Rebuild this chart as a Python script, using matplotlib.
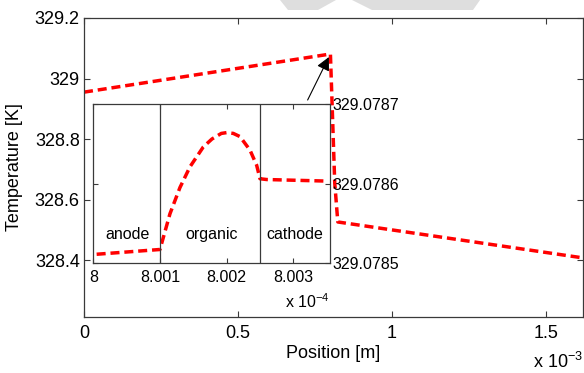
import matplotlib
matplotlib.use('Agg')
import matplotlib.pyplot as plt
from matplotlib.patches import Polygon

plt.rcParams['font.family'] = ['Liberation Sans', 'DejaVu Sans']
plt.rcParams['mathtext.fontset'] = 'custom'
plt.rcParams['mathtext.rm'] = 'Liberation Sans'
plt.rcParams['mathtext.default'] = 'regular'

# ---- data ----
main_x = [0.0, 0.800e-3, 0.805e-3, 0.814e-3, 0.824e-3, 1.622e-3]
main_T = [328.955, 329.081, 328.929, 328.655, 328.526, 328.407]

inset_x = [8.00005e-4, 8.0010e-4, 8.00115e-4, 8.0013e-4, 8.00145e-4, 8.00165e-4,
           8.00178e-4, 8.00192e-4, 8.0020e-4, 8.0021e-4, 8.0022e-4, 8.00235e-4,
           8.00245e-4, 8.0025e-4, 8.0026e-4, 8.00352e-4]
inset_T = [329.078511, 329.078517, 329.078562, 329.078595, 329.078621, 329.078646,
           329.078656, 329.078663, 329.078664, 329.078663, 329.078659, 329.078642,
           329.078623, 329.078606, 329.078605, 329.078603]

layer_bounds = [8.001e-4, 8.0025e-4]
layer_names = ['anode', 'organic', 'cathode']
layer_centers = [8.00052e-4, 8.00178e-4, 8.00302e-4]

main_xticks = [0.0, 0.5e-3, 1.0e-3, 1.5e-3]
main_xticklabels = ['0', '0.5', '1', '1.5']
main_yticks = [328.4, 328.6, 328.8, 329.0, 329.2]
main_yticklabels = ['328.4', '328.6', '328.8', '329', '329.2']

inset_xticks = [8.000e-4, 8.001e-4, 8.002e-4, 8.003e-4]
inset_xticklabels = ['8', '8.001', '8.002', '8.003']
inset_yticks = [329.0785, 329.0786, 329.0787]
inset_yticklabels = ['329.0785', '329.0786', '329.0787']

arrow_tail = (0.726e-3, 328.929)
arrow_head = (0.795e-3, 329.071)

W, H = 584, 373
fig = plt.figure(figsize=(W / 100, H / 100), dpi=100)

# watermark shapes at top
wm_color = '#dedede'
for poly in ([(280, 0), (336, 0), (318, 10), (288, 10)],
             [(352, 0), (480, 0), (473, 10), (372, 10)]):
    fig.patches.append(Polygon([(x / W, 1 - y / H) for x, y in poly], closed=True,
                               transform=fig.transFigure, facecolor=wm_color,
                               edgecolor='none', zorder=-5))

spine_col = '#3a3a3a'
red = '#ff0000'
dash = (0, (2.6, 1.4))

ax = fig.add_axes([84 / W, 1 - 317 / H, 499 / W, 299 / H])
ax.plot(main_x, main_T, color=red, lw=2.5, linestyle=dash)
ax.set_xlim(0, 1.62e-3)
ax.set_ylim(328.212, 329.2)
ax.set_xticks(main_xticks)
ax.set_xticklabels(main_xticklabels)
ax.set_yticks(main_yticks)
ax.set_yticklabels(main_yticklabels)
ax.tick_params(direction='in', length=4, width=0.8, color=spine_col,
               top=True, right=True, labelsize=13)
ax.tick_params(axis='x', pad=6)
ax.tick_params(axis='y', pad=3)
for s in ax.spines.values():
    s.set_color(spine_col)
    s.set_linewidth(0.9)
ax.set_xlabel('Position [m]', fontsize=13)
ax.set_ylabel('Temperature [K]', fontsize=13)
ax.xaxis.set_label_coords(0.5, -0.095)
ax.yaxis.set_label_coords(-0.122, 0.5)
ax.text(1.0, -0.15, r'x 10$^{-3}$', transform=ax.transAxes, ha='right',
        va='center', fontsize=13)

ax.annotate('', xy=arrow_head, xytext=arrow_tail,
            arrowprops=dict(arrowstyle='-|>', color='black', lw=0.8,
                            mutation_scale=20, shrinkA=0, shrinkB=0))

# inset
ins = fig.add_axes([93.3 / W, 1 - 263 / H, 236.7 / W, 159 / H])
ins.set_facecolor('white')
ins.plot(inset_x, inset_T, color=red, lw=2.5, linestyle=dash)
for b in layer_bounds:
    ins.axvline(b, color=spine_col, lw=0.9)
for name, c in zip(layer_names, layer_centers):
    ins.text(c, 0.18, name, transform=ins.get_xaxis_transform(), ha='center',
             va='center', fontsize=11.5)
ins.set_xlim(8.0e-4, 8.00355e-4)
ins.set_ylim(329.0785, 329.0787)
ins.set_xticks(inset_xticks)
ins.set_xticklabels(inset_xticklabels)
ins.set_yticks(inset_yticks)
ins.set_yticklabels(inset_yticklabels)
ins.yaxis.tick_right()
ins.tick_params(direction='in', length=3.5, width=0.8, color=spine_col,
                top=True, left=True, right=True, labelsize=11.5)
ins.tick_params(axis='x', pad=5)
ins.tick_params(axis='y', pad=2)
for s in ins.spines.values():
    s.set_color(spine_col)
    s.set_linewidth(0.9)
ins.text(1.0, -0.245, r'x 10$^{-4}$', transform=ins.transAxes, ha='right',
         va='center', fontsize=11.5)

fig.savefig('out.png', dpi=100)
